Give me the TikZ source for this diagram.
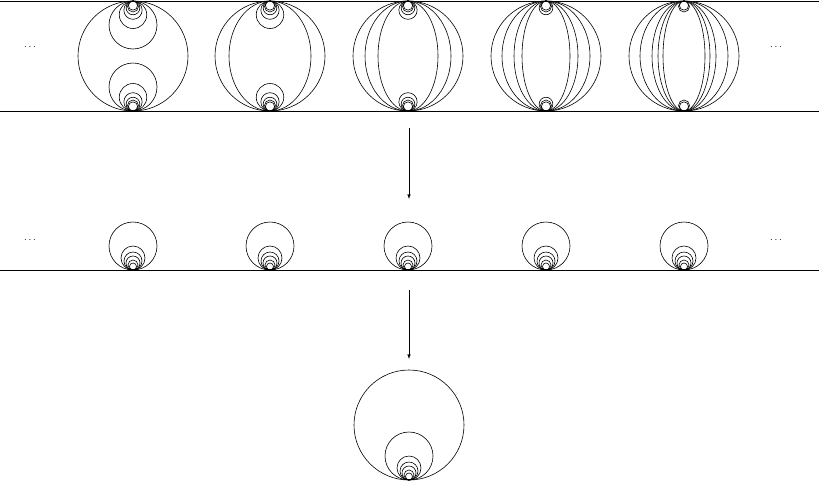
\documentclass[tikz,border=0pt]{standalone}
\begin{document}
\begin{tikzpicture}[x=1pt,y=-1pt,line width=0.6pt,
  arr/.style={-latex},
  dotsty/.style={font=\normalsize}]
\useasboundingbox (0,0) rectangle (819,482);
\draw (0,1) -- (819,1);
\draw (0,111) -- (819,111);
\draw (0,270) -- (819,270);
% top row
\foreach \cx/\k/\ws in {133/1/{}, 270/2/{41}, 408/3/{43,30}, 546/4/{44,32,24}, 684/5/{44,32,26,21}} {
  \draw (\cx,56) circle (55);
  \foreach \w in \ws { \draw (\cx,56) ellipse (\w pt and 55pt); }
  \foreach \j in {\k,...,6} {
    \pgfmathsetmacro{\r}{ifthenelse(\j==1,24,55/(2*\j))}
    \draw (\cx,1+\r) circle (\r);
    \draw (\cx,111-\r) circle (\r);
  }
}
\node[dotsty] (d1) at (30,47) {$\cdots$};
\node[dotsty] (d2) at (776,47) {$\cdots$};
% middle row
\foreach \cx in {133,270,408,546,684} {
  \foreach \r in {24,12,9,7,5,3.5} { \draw (\cx,270-\r) circle (\r); }
}
\node[dotsty] (d3) at (30,240) {$\cdots$};
\node[dotsty] (d4) at (776,240) {$\cdots$};
% bottom
\draw (409,425) circle (55);
\foreach \r in {24,12,9,7,5,3.5} { \draw (409,480-\r) circle (\r); }
\coordinate (a1) at (409,128); \coordinate (a2) at (409,199);
\coordinate (b1) at (409,290); \coordinate (b2) at (409,359);
\draw[arr] (a1) -- (a2);
\draw[arr] (b1) -- (b2);
\end{tikzpicture}
\end{document}
